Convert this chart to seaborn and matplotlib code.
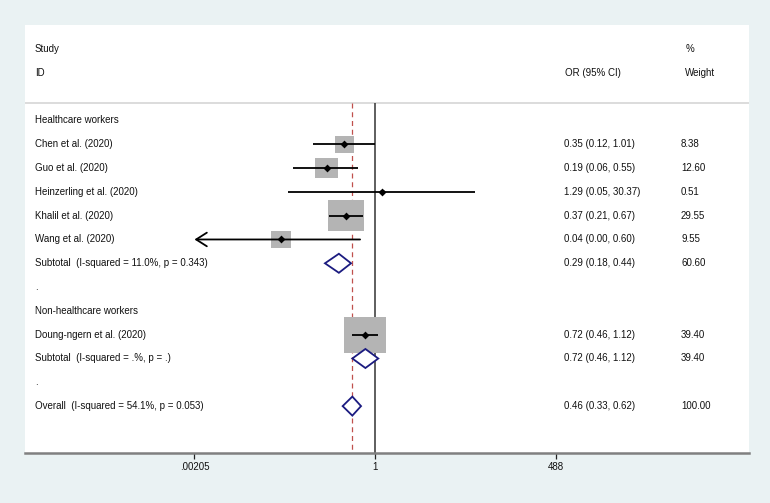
import matplotlib
matplotlib.use("Agg")
import numpy as np
import pandas as pd
import matplotlib.pyplot as plt
import matplotlib.transforms as mtransforms
from matplotlib.path import Path
import seaborn as sns

sns.set_style("white")
plt.rcParams["font.family"] = ["Liberation Sans", "DejaVu Sans"]

# section / spacer rows (row index, text)
group_rows = [0, 7, 8, 11]
group_labels = ["Healthcare workers", ".", "Non-healthcare workers", "."]

# individual studies
study_rows = [1, 2, 3, 4, 5, 9]
study_labels = ["Chen et al. (2020)", "Guo et al. (2020)", "Heinzerling et al. (2020)",
                "Khalil et al. (2020)", "Wang et al. (2020)", "Doung-ngern et al. (2020)"]
study_or = [0.35, 0.19, 1.29, 0.37, 0.04, 0.72]
study_lo = [0.12, 0.06, 0.05, 0.21, 0.002, 0.46]
study_hi = [1.01, 0.55, 30.37, 0.67, 0.60, 1.12]
study_weight = [8.38, 12.60, 0.51, 29.55, 9.55, 39.40]

# pooled estimates
pooled_rows = [6, 10, 12]
pooled_labels = ["Subtotal  (I-squared = 11.0%, p = 0.343)",
                 "Subtotal  (I-squared = .%, p = .)",
                 "Overall  (I-squared = 54.1%, p = 0.053)"]
pooled_or = [0.29, 0.72, 0.46]
pooled_lo = [0.18, 0.46, 0.33]
pooled_hi = [0.44, 1.12, 0.62]
pooled_weight = [60.60, 39.40, 100.00]

tick_vals = [0.00205, 1, 488]
tick_labels = [".00205", "1", "488"]

df = pd.DataFrame({"row": study_rows, "label": study_labels, "OR": study_or,
                   "lo": study_lo, "hi": study_hi, "weight": study_weight})

W, H = 770, 503
fig = plt.figure(figsize=(W / 100, H / 100), dpi=100, facecolor="#eaf2f3")
ax = fig.add_axes([25 / W, (H - 453) / H, 724 / W, 428 / H])
ax.set_facecolor("white")

ax.set_xscale("log")
ax.set_xlim(10 ** -5.212, 10 ** 5.570)
y_bottom, y_top = 13.97, -4.01
ax.set_ylim(y_bottom, y_top)
header_y = -0.74

# header rule
ax.axhline(header_y, color="#d9d9d9", lw=1.3, zorder=1)

# null line and overall effect line
ax.vlines(1, header_y, y_bottom, color="#333333", lw=1.1, zorder=2)
ax.vlines(pooled_or[-1], header_y, y_bottom, color="#c0504d", lw=0.9,
          linestyles=(0, (4, 3)), zorder=2)

# weight boxes (area proportional to weight)
k = 23.0
box = Path([(-1, -0.87), (1, -0.87), (1, 0.87), (-1, 0.87), (-1, -0.87)], closed=True)
sns.scatterplot(data=df, x="OR", y="row", size="weight",
                sizes=(k * df["weight"].min(), k * df["weight"].max()),
                marker=box, color="#b4b4b4", linewidth=0, legend=False, ax=ax, zorder=3)

# confidence intervals (clipped with an arrow at the axis limit)
x_min = tick_vals[0]
for _, r in df.iterrows():
    if r["lo"] < x_min:
        ax.annotate("", xy=(x_min, r["row"]), xytext=(r["hi"], r["row"]),
                    arrowprops=dict(arrowstyle="->,head_length=0.55,head_width=0.35",
                                    color="black", lw=1.3, shrinkA=0, shrinkB=0,
                                    mutation_scale=14), zorder=4)
    else:
        ax.hlines(r["row"], r["lo"], r["hi"], color="black", lw=1.3, zorder=4)

sns.scatterplot(data=df, x="OR", y="row", marker="D", s=16, color="black",
                linewidth=0, legend=False, ax=ax, zorder=5)

# pooled diamonds
for row, est, lo, hi in zip(pooled_rows, pooled_or, pooled_lo, pooled_hi):
    ax.fill([lo, est, hi, est, lo], [row, row - 0.4, row, row + 0.4, row],
            facecolor="white", edgecolor="#1b1b80", lw=1.3, zorder=6)

# text columns
trans = mtransforms.blended_transform_factory(ax.transAxes, ax.transData)
fs = 7
x_lab, x_or, x_w = 10 / 724, 539 / 724, 656 / 724
txt = dict(transform=trans, fontsize=fs, va="center", ha="left", color="#111111")

ax.text(x_lab, -3.0, "Study", **txt)
ax.text(x_lab, -2.0, "ID", **txt)
ax.text(540 / 724, -2.0, "OR (95% CI)", **txt)
ax.text(661 / 724, -3.0, "%", **txt)
ax.text(660 / 724, -2.0, "Weight", **txt)

for row, lab in zip(group_rows, group_labels):
    ax.text(x_lab, row, lab, **txt)

for row, lab, est, lo, hi, w in zip(study_rows, study_labels, study_or,
                                     study_lo, study_hi, study_weight):
    ax.text(x_lab, row, lab, **txt)
    ax.text(x_or, row, f"{est:.2f} ({lo:.2f}, {hi:.2f})", **txt)
    ax.text(x_w, row, f"{w:.2f}", **txt)

for row, lab, est, lo, hi, w in zip(pooled_rows, pooled_labels, pooled_or,
                                     pooled_lo, pooled_hi, pooled_weight):
    ax.text(x_lab, row, lab, **txt)
    ax.text(x_or, row, f"{est:.2f} ({lo:.2f}, {hi:.2f})", **txt)
    ax.text(x_w, row, f"{w:.2f}", **txt)

# axis styling
for s in ["top", "left", "right"]:
    ax.spines[s].set_visible(False)
ax.spines["bottom"].set_color("#808080")
ax.spines["bottom"].set_linewidth(1.8)
ax.set_yticks([])
ax.set_xticks(tick_vals)
ax.set_xticklabels(tick_labels)
ax.xaxis.set_minor_locator(matplotlib.ticker.NullLocator())
ax.tick_params(axis="x", direction="out", length=4, width=0.9, color="#222222",
               labelsize=7, labelcolor="#111111", pad=2.5, bottom=True)
ax.set_xlabel("")
ax.set_ylabel("")

fig.savefig("out.png", dpi=100, facecolor=fig.get_facecolor())
